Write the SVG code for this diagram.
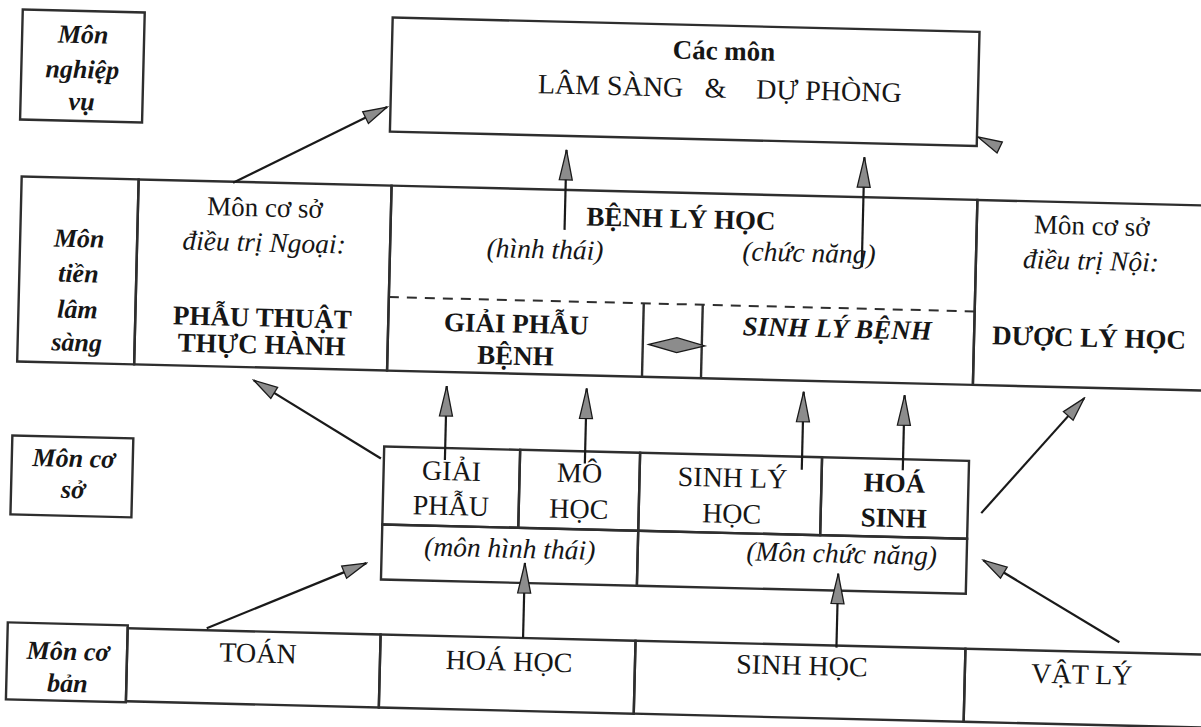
<svg xmlns="http://www.w3.org/2000/svg" width="1201" height="727" viewBox="0 0 1201 727">
<defs>
<style>
.box{fill:none;stroke:#2e2e2e;stroke-width:2.4}
.t{font-family:"Liberation Serif","Times New Roman",serif;fill:#161616;text-anchor:middle}
.r{font-size:28px}
.h{font-size:27px}
.b{font-size:27px;font-weight:bold}
.i{font-size:27.5px;font-style:italic}
.bi{font-size:26px;font-weight:bold;font-style:italic}
.c{fill:none;stroke:#1a1a1a;stroke-width:2.2}
.dash{fill:none;stroke:#2e2e2e;stroke-width:2;stroke-dasharray:10 8}
.head{fill:#8c8c8c;stroke:#1a1a1a;stroke-width:1.3;stroke-linejoin:miter}
</style>
<marker id="ah" viewBox="-32 -8 34 16" refX="0" refY="0" markerWidth="34" markerHeight="16" markerUnits="userSpaceOnUse" orient="auto">
<path d="M0,0 L-30,-6.5 L-30,6.5 Z" class="head"/>
</marker>
<marker id="ahs" viewBox="-26 -8 28 16" refX="0" refY="0" markerWidth="28" markerHeight="16" markerUnits="userSpaceOnUse" orient="auto">
<path d="M0,0 L-24,-6.5 L-24,6.5 Z" class="head"/>
</marker>
</defs>
<rect x="0" y="0" width="1201" height="727" fill="#ffffff"/>
<g transform="rotate(1.4)">
<g id="mon-nghiep-vu">
<rect class="box" x="23" y="9" width="122" height="110"/>
<text class="t bi" x="84" y="41">Môn</text>
<text class="t bi" x="84" y="76">nghiệp</text>
<text class="t bi" x="84" y="108">vụ</text>
</g>
<g id="lam-sang-du-phong">
<rect class="box" x="393" y="8" width="587" height="114"/>
<text class="t b" x="725" y="42">Các môn</text>
<text class="t r" y="80"><tspan x="616">LÂM SÀNG</tspan> <tspan x="721">&amp;</tspan> <tspan x="831">DỰ PHÒNG</tspan></text>
</g>
<g id="mon-tien-lam-sang">
<rect class="box" x="26" y="176" width="117" height="185"/>
<text class="t bi" x="85" y="245">Môn</text>
<text class="t bi" x="85" y="280">tiền</text>
<text class="t bi" x="85" y="316">lâm</text>
<text class="t bi" x="85" y="349">sàng</text>
</g>
<g id="phau-thuat-thuc-hanh">
<rect class="box" x="143" y="176" width="253" height="185"/>
<text class="t h" x="270" y="210">Môn cơ sở</text>
<text class="t i" x="270" y="245">điều trị Ngoại:</text>
<text class="t b" x="270" y="320">PHẪU THUẬT</text>
<text class="t b" x="270" y="347">THỰC HÀNH</text>
</g>
<g id="benh-ly-hoc">
<rect class="box" x="396" y="176" width="586" height="185"/>
<line class="dash" x1="396" y1="287.5" x2="982" y2="287.5"/>
<text class="t b" x="686" y="211">BỆNH LÝ HỌC</text>
<text class="t i" x="551" y="245">(hình thái)</text>
<text class="t i" x="815" y="242">(chức năng)</text>
</g>
<g id="giai-phau-benh">
<line class="box" x1="651" y1="287.5" x2="651" y2="361"/>
<text class="t b" x="524" y="320">GIẢI PHẪU</text>
<text class="t b" x="524" y="352">BỆNH</text>
</g>
<g id="sinh-ly-benh">
<line class="box" x1="710" y1="287.5" x2="710" y2="361"/>
<text class="t bi" style="font-size:27px" x="845" y="317">SINH LÝ BỆNH</text>
</g>
<g id="duoc-ly-hoc">
<rect class="box" x="982" y="176" width="270" height="185"/>
<text class="t h" x="1097" y="208">Môn cơ sở</text>
<text class="t i" x="1097" y="243">điều trị Nội:</text>
<text class="t b" x="1097" y="320">DƯỢC LÝ HỌC</text>
</g>
<g id="mon-co-so">
<rect class="box" x="23" y="435" width="121" height="79"/>
<text class="t bi" x="85" y="465">Môn cơ</text>
<text class="t bi" x="85" y="496">sở</text>
</g>
<g id="giai-phau">
<rect class="box" x="395" y="437" width="136" height="78"/>
<text class="t r" x="463" y="469">GIẢI</text>
<text class="t r" x="463" y="504">PHẪU</text>
</g>
<g id="mo-hoc">
<rect class="box" x="531" y="437" width="120" height="78"/>
<text class="t r" x="591" y="468">MÔ</text>
<text class="t r" x="591" y="504">HỌC</text>
</g>
<g id="sinh-ly-hoc">
<rect class="box" x="651" y="437" width="182" height="78"/>
<text class="t r" x="744" y="469">SINH LÝ</text>
<text class="t r" x="744" y="505">HỌC</text>
</g>
<g id="hoa-sinh">
<rect class="box" x="833" y="437" width="147" height="78"/>
<text class="t b" x="906" y="470">HOÁ</text>
<text class="t b" x="906" y="505">SINH</text>
</g>
<g id="mon-hinh-thai">
<rect class="box" x="395" y="515" width="256" height="55"/>
<text class="t i" x="523" y="545">(môn hình thái)</text>
</g>
<g id="mon-chuc-nang">
<rect class="box" x="651" y="515" width="329" height="55"/>
<text class="t i" x="855" y="542">(Môn chức năng)</text>
</g>
<g id="mon-co-ban">
<rect class="box" x="23" y="622" width="120" height="77"/>
<text class="t bi" x="84" y="658">Môn cơ</text>
<text class="t bi" x="84" y="690">bản</text>
</g>
<g id="toan">
<rect class="box" x="143" y="625" width="253" height="73"/>
<text class="t r" x="274" y="656">TOÁN</text>
</g>
<g id="hoa-hoc">
<rect class="box" x="396" y="625" width="255" height="73"/>
<text class="t r" x="525" y="658">HOÁ HỌC</text>
</g>
<g id="sinh-hoc">
<rect class="box" x="651" y="625" width="330" height="73"/>
<text class="t r" x="818" y="655">SINH HỌC</text>
</g>
<g id="vat-ly">
<rect class="box" x="981" y="625" width="270" height="73"/>
<text class="t r" x="1098" y="657">VẬT LÝ</text>
</g>
<g id="connectors">
<line class="c" x1="237.5" y1="177" x2="389.6" y2="97.6" marker-end="url(#ahs)"/>
<path class="head" d="M981,113 L1005.5,117.5 L1000.5,128.5 Z"/>
<line class="c" x1="570" y1="216" x2="570" y2="136" marker-end="url(#ah)"/>
<line class="c" x1="868" y1="246" x2="868" y2="136" marker-end="url(#ah)"/>
<path class="head" d="M657,328.5 L685,321 L713,328.5 L685,336 Z"/>
<line class="c" x1="456" y1="449" x2="456" y2="375" marker-end="url(#ah)"/>
<line class="c" x1="596" y1="449" x2="596" y2="374" marker-end="url(#ah)"/>
<line class="c" x1="813" y1="450" x2="813" y2="372" marker-end="url(#ah)"/>
<line class="c" x1="914" y1="448" x2="914" y2="373" marker-end="url(#ah)"/>
<line class="c" x1="392" y1="449" x2="263" y2="374" marker-end="url(#ahs)"/>
<line class="c" x1="222" y1="623" x2="380" y2="554" marker-end="url(#ahs)"/>
<line class="c" x1="993.5" y1="489" x2="1093.7" y2="371.5" marker-end="url(#ahs)"/>
<line class="c" x1="1134.7" y1="614.7" x2="996.7" y2="536" marker-end="url(#ahs)"/>
<line class="c" x1="538.5" y1="625" x2="538.5" y2="550" marker-end="url(#ah)"/>
<line class="c" x1="852" y1="627" x2="852" y2="553" marker-end="url(#ah)"/>
</g>
</g>
</svg>
